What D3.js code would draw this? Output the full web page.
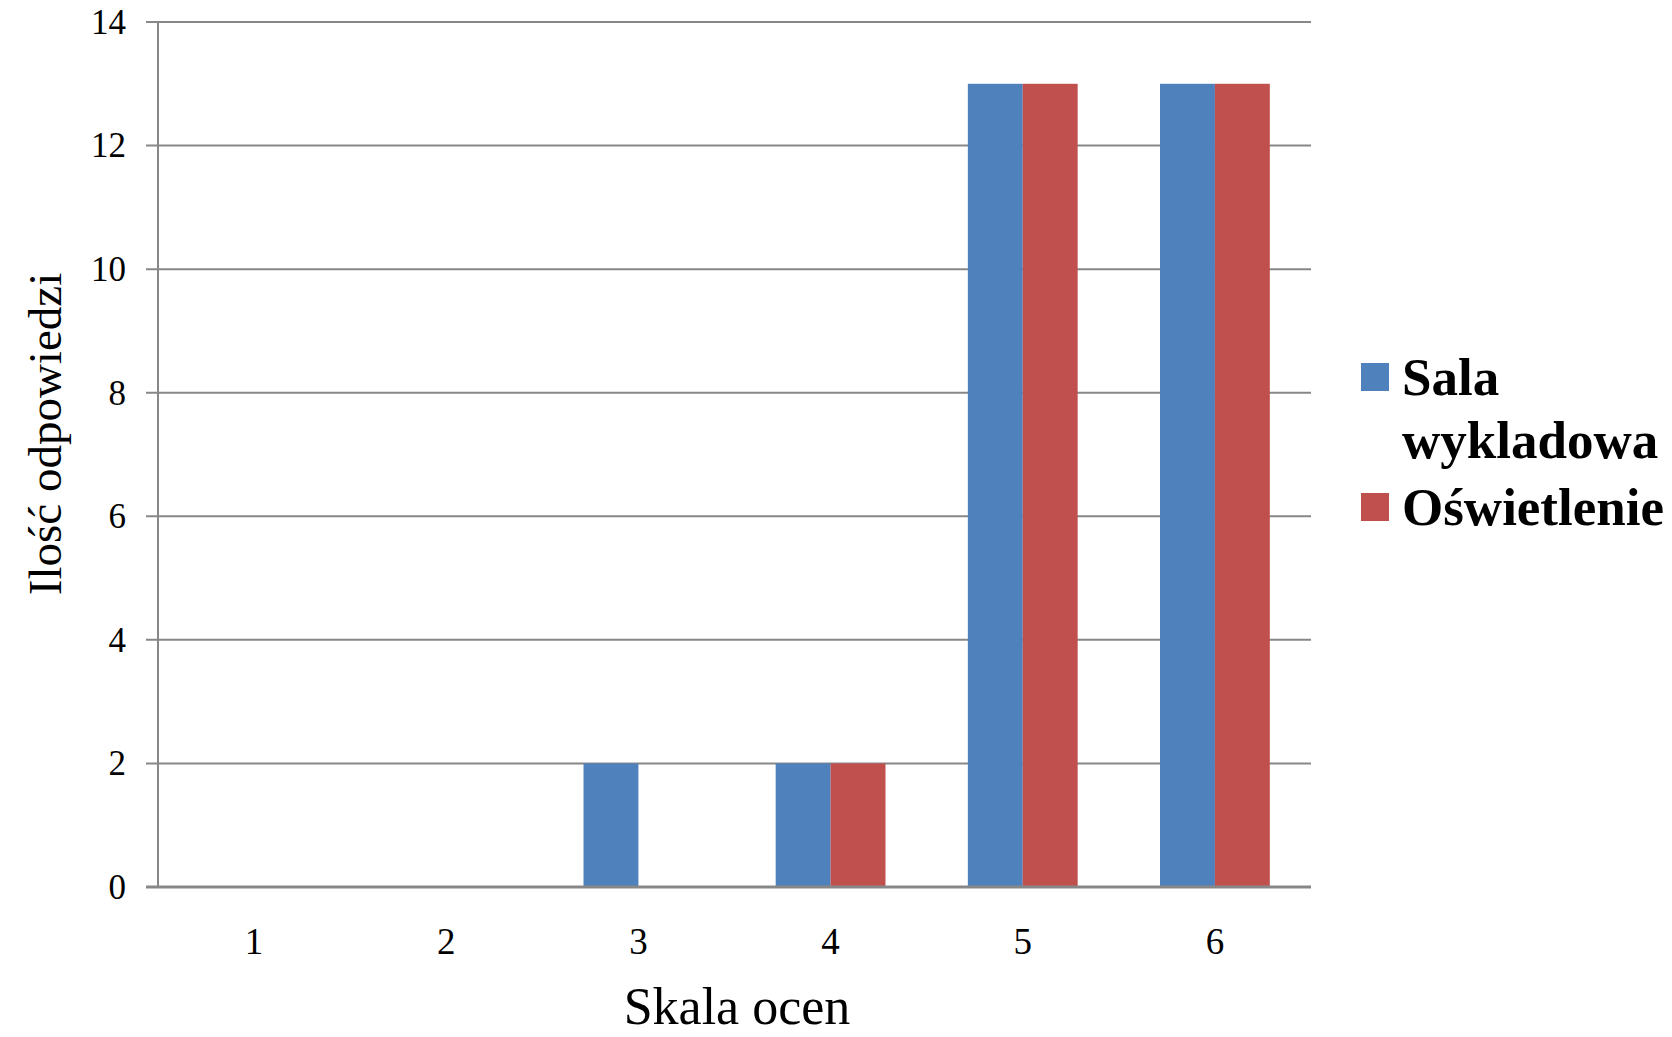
<!DOCTYPE html>
<html>
<head>
<meta charset="utf-8">
<script src="https://cdn.jsdelivr.net/npm/d3@7"></script>
<style>
  html, body { margin: 0; padding: 0; background: #fff; }
  svg { display: block; }
</style>
</head>
<body>
<svg id="chart" width="1672" height="1037"></svg>
<script>
const categories = ["1", "2", "3", "4", "5", "6"];
const seriesNames = ["Sala wykladowa", "Oświetlenie"];
const salaValues = [0, 0, 2, 2, 13, 13];
const oswValues = [0, 0, 0, 2, 13, 13];
const yTicks = [0, 2, 4, 6, 8, 10, 12, 14];
const colors = ["#4F81BD", "#C0504D"];
const legendLines = [["Sala", "wykladowa"], ["Oświetlenie"]];

(function () {
const svg = d3.select("#chart");
const pLeft = 158, pRight = 1311, pTop = 22, pBottom = 887;

const x0 = d3.scaleBand().domain(categories).range([pLeft, pRight]).paddingInner(0).paddingOuter(0);
const x1 = d3.scaleBand().domain(seriesNames).range([0, x0.bandwidth()]).paddingInner(0).paddingOuter(0.75);
const y = d3.scaleLinear().domain([0, 14]).range([pBottom, pTop]);

const serif = "'Liberation Serif', 'Times New Roman', serif";
const grid = "#878787";

// gridlines
svg.append("g").selectAll("line").data(yTicks.filter(d => d !== 0)).join("line")
  .attr("x1", pLeft - 12).attr("x2", pRight)
  .attr("y1", d => y(d)).attr("y2", d => y(d))
  .attr("stroke", grid).attr("stroke-width", 2);

// y axis line
svg.append("line").attr("x1", pLeft).attr("x2", pLeft).attr("y1", y(14)).attr("y2", pBottom)
  .attr("stroke", grid).attr("stroke-width", 2);

// bars
const data = categories.map((c, i) => ({ c, vals: [salaValues[i], oswValues[i]] }));
const groups = svg.append("g").selectAll("g").data(data).join("g")
  .attr("transform", d => `translate(${x0(d.c)},0)`);
groups.selectAll("rect").data(d => d.vals.map((v, j) => ({ v, s: seriesNames[j], j }))).join("rect")
  .attr("x", d => x1(d.s))
  .attr("width", x1.bandwidth())
  .attr("y", d => y(d.v))
  .attr("height", d => pBottom - y(d.v))
  .attr("fill", d => colors[d.j]);

// x axis line
svg.append("line").attr("x1", pLeft - 12).attr("x2", pRight).attr("y1", pBottom).attr("y2", pBottom)
  .attr("stroke", grid).attr("stroke-width", 3);

// y tick labels
svg.append("g").selectAll("text").data(yTicks).join("text")
  .attr("x", 126).attr("y", d => y(d)).attr("dy", "0.34em")
  .attr("text-anchor", "end")
  .attr("font-family", serif).attr("font-size", 35).attr("fill", "#000")
  .text(d => d);

// x tick labels
svg.append("g").selectAll("text").data(categories).join("text")
  .attr("x", d => x0(d) + x0.bandwidth() / 2).attr("y", 954)
  .attr("text-anchor", "middle")
  .attr("font-family", serif).attr("font-size", 37).attr("fill", "#000")
  .text(d => d);

// axis titles
svg.append("text").attr("x", 737).attr("y", 1024).attr("text-anchor", "middle")
  .attr("font-family", serif).attr("font-size", 52).attr("fill", "#000")
  .text("Skala ocen");
svg.append("text").attr("transform", "translate(61,434) rotate(-90)").attr("text-anchor", "middle")
  .attr("font-family", serif).attr("font-size", 47).attr("fill", "#000")
  .text("Ilość odpowiedzi");

// legend
const legendY = [363, 493];
const lg = svg.append("g");
seriesNames.forEach((s, i) => {
  lg.append("rect").attr("x", 1361).attr("y", legendY[i]).attr("width", 28).attr("height", 28).attr("fill", colors[i]);
  const t = lg.append("text").attr("font-family", serif).attr("font-weight", "bold").attr("font-size", 53).attr("fill", "#000");
  legendLines[i].forEach((ln, k) => {
    t.append("tspan").attr("x", 1402).attr("y", legendY[i] + 32 + k * 63).text(ln);
  });
});
})();
</script>
</body>
</html>
